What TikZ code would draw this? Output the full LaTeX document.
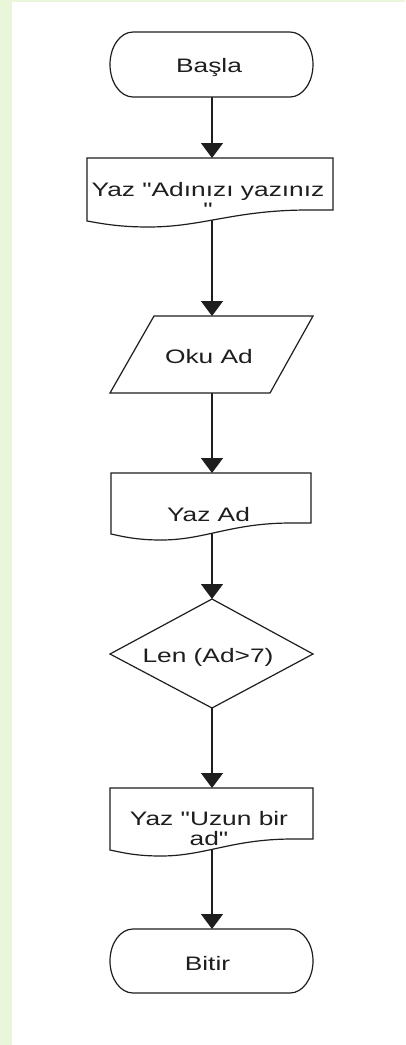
\documentclass[tikz,border=0pt]{standalone}
\usepackage{fontspec}
\setmainfont[FakeStretch=1.35, Ligatures=TeXOff]{Liberation Sans}
\usetikzlibrary{arrows.meta}
\definecolor{bggreen}{RGB}{234,246,218}
\definecolor{ink}{RGB}{30,30,30}
\newcommand{\flowdoc}[4]{% L R T B
  \path[shapeline] (#1,#3) -- (#2,#3) -- (#2,#4) -- ({#1+0.9*(#2-#1)},#4)
    .. controls ({#1+0.6*(#2-#1)},#4) and ({#1+0.47*(#2-#1)},{#4+17}) .. ({#1+0.25*(#2-#1)},{#4+17})
    .. controls ({#1+0.12*(#2-#1)},{#4+17}) and ({#1+0.05*(#2-#1)},{#4+13}) .. (#1,{#4+11}) -- cycle;}
\newcommand{\flowterm}[4]{% L R T B
  \path[shapeline] ({#1+23},#3) -- ({#2-23},#3)
    arc[start angle=-90, end angle=90, x radius=23, y radius={(#4-#3)/2}]
    -- ({#1+23},#4)
    arc[start angle=90, end angle=270, x radius=23, y radius={(#4-#3)/2}] -- cycle;}
\begin{document}
\begin{tikzpicture}[x=1pt,y=-1pt,
  shapeline/.style={draw=ink, line width=1.2pt, fill=white, line join=miter},
  lbl/.style={font=\fontsize{19.5}{20}\selectfont, text=ink, inner sep=0pt, anchor=base, align=center},
  flow/.style={draw=ink, line width=1.4pt, -{Triangle[width=22pt,length=15pt]}}]
% background
\fill[white] (0,0) rectangle (405,1045);
\fill[bggreen] (0,0) rectangle (12,1045);
\fill[bggreen] (0,0) rectangle (405,2);
\useasboundingbox (0,0) rectangle (405,1045);
% connector end points
\coordinate (sOut) at (212,97);
\coordinate (d1In) at (212,158);
\coordinate (d1Out) at (212,215);
\coordinate (rIn) at (212,316);
\coordinate (rOut) at (212,393);
\coordinate (d2In) at (212,473);
\coordinate (d2Out) at (212,528);
\coordinate (cIn) at (212,599);
\coordinate (cOut) at (212,708);
\coordinate (d3In) at (212,788);
\coordinate (d3Out) at (212,844);
\coordinate (eIn) at (212,929);
% connectors (drawn first, shapes cover their start)
\draw[flow] (sOut) -- (d1In);
\draw[flow] (d1Out) -- (rIn);
\draw[flow] (rOut) -- (d2In);
\draw[flow] (d2Out) -- (cIn);
\draw[flow] (cOut) -- (d3In);
\draw[flow] (d3Out) -- (eIn);
% shapes
\flowterm{110}{313}{32}{97}
\flowdoc{87}{333}{158}{210}
\path[shapeline] (154,316) -- (313,316) -- (270,393) -- (110,393) -- cycle;
\flowdoc{111}{311}{473}{523}
\path[shapeline] (212,599) -- (313,654) -- (212,708) -- (110,654) -- cycle;
\flowdoc{110}{313}{788}{839}
\flowterm{110}{313}{929}{993}
% texts
\node[lbl] (start) at (209,72) {Başla};
\node[lbl] (write1) at (208,216) {Yaz "Adınızı yazınız\\"};
\node[lbl] (read) at (209,363) {Oku Ad};
\node[lbl] (write2) at (208.5,521) {Yaz Ad};
\node[lbl] (cond) at (208,662) {Len (Ad>7)};
\node[lbl] (write3) at (209,845) {Yaz "Uzun bir\\ad"};
\node[lbl] (finish) at (207.5,970) {Bitir};
\end{tikzpicture}
\end{document}
